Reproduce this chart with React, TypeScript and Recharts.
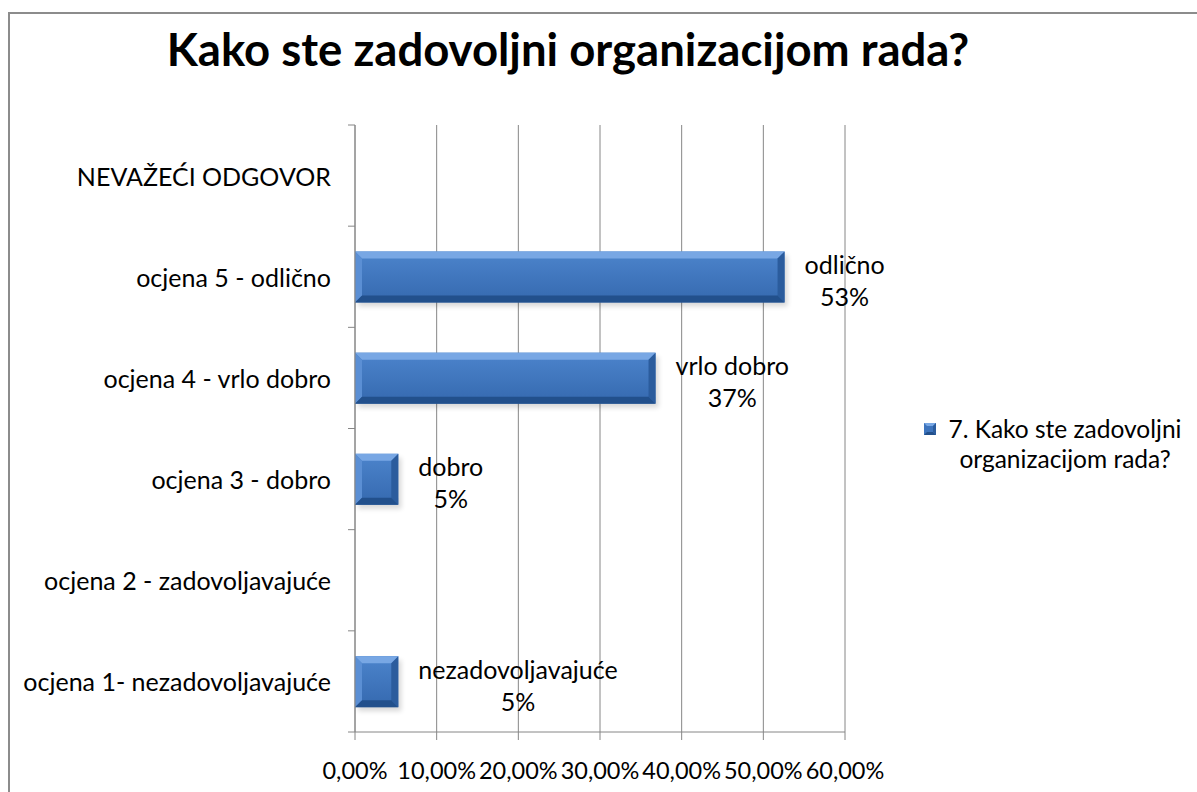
import React from 'react';
import {
  BarChart,
  Bar,
  XAxis,
  YAxis,
  CartesianGrid,
  LabelList
} from 'recharts';

const categories = [
  'NEVAŽEĆI ODGOVOR',
  'ocjena 5 - odlično',
  'ocjena 4 - vrlo dobro',
  'ocjena 3 - dobro',
  'ocjena 2 - zadovoljavajuće',
  'ocjena 1- nezadovoljavajuće'
];
const shares = [0, 0.526, 0.368, 0.053, 0, 0.053];
const labelNames = ['', 'odlično', 'vrlo dobro', 'dobro', '', 'nezadovoljavajuće'];
const xTicks = [0, 0.1, 0.2, 0.3, 0.4, 0.5, 0.6];

const title = 'Kako ste zadovoljni organizacijom rada?';
const seriesName = '7. Kako ste zadovoljni organizacijom rada?';

const data = categories.map((category, i) => ({
  category,
  value: shares[i],
  name: labelNames[i]
}));

const FONT = 'Lato, "Open Sans", sans-serif';
const FS = 25;
const GRID = '#868686';
const PLOT_TOP = 125;
const PLOT_BOTTOM = 732;
const BAND = (PLOT_BOTTOM - PLOT_TOP) / categories.length;

let ctx: CanvasRenderingContext2D | null = null;
const textWidth = (t: string) => {
  if (!ctx) ctx = document.createElement('canvas').getContext('2d');
  if (!ctx) return t.length * 12;
  ctx.font = `${FS}px Lato`;
  return ctx.measureText(t).width;
};

const BevelBar = (props: any) => {
  const { x, y, width, height } = props;
  if (!width || width <= 0) return null;
  const b = Math.min(7, width / 3, height / 3);
  return (
    <g>
      <rect x={x + 3} y={y + 4} width={width} height={height} fill="#000" opacity={0.15} filter="url(#barShadow)" />
      <rect x={x} y={y} width={width} height={height} fill="url(#barBody)" />
      <polygon points={`${x},${y} ${x + width},${y} ${x + width - b},${y + b} ${x + b},${y + b}`} fill="#78a7e4" />
      <polygon points={`${x},${y} ${x + b},${y + b} ${x + b},${y + height - b} ${x},${y + height}`} fill="#5b8fd4" />
      <polygon points={`${x + width},${y} ${x + width},${y + height} ${x + width - b},${y + height - b} ${x + width - b},${y + b}`} fill="#2b5c9d" />
      <polygon points={`${x},${y + height} ${x + width},${y + height} ${x + width - b},${y + height - b} ${x + b},${y + height - b}`} fill="#22508c" />
    </g>
  );
};

const BarLabel = (props: any) => {
  const { x, y, width, height, index } = props;
  const v = shares[index];
  if (!v) return null;
  const name = labelNames[index];
  const pct = `${Math.round(v * 100)}%`;
  const w = Math.max(textWidth(name), textWidth(pct));
  const cx = x + width + 20 + w / 2;
  const cy = y + height / 2;
  return (
    <g fontFamily={FONT} fontSize={FS} fill="#000">
      <text x={cx} y={cy - 13} textAnchor="middle" dominantBaseline="central">{name}</text>
      <text x={cx} y={cy + 19} textAnchor="middle" dominantBaseline="central">{pct}</text>
    </g>
  );
};

const CategoryTick = (props: any) => {
  const { x, y, payload, index } = props;
  const last = index === categories.length - 1;
  return (
    <g>
      <line x1={x - 7} x2={x} y1={y - BAND / 2} y2={y - BAND / 2} stroke={GRID} />
      {last && <line x1={x - 7} x2={x} y1={y + BAND / 2} y2={y + BAND / 2} stroke={GRID} />}
      <text x={x - 24} y={y} textAnchor="end" dominantBaseline="central" fontFamily={FONT} fontSize={FS} fill="#000">
        {payload.value}
      </text>
    </g>
  );
};

const formatPct = (v: number) => `${(v * 100).toFixed(2).replace('.', ',')}%`;

export default function App() {
  return (
    <div style={{ position: 'absolute', left: 0, top: 0, width: 1197, height: 792, overflow: 'hidden', background: '#fff' }}>
      <div style={{ position: 'absolute', left: 8, top: 12, width: 1300, height: 900, borderLeft: '2px solid #8c8c8c', borderTop: '2px solid #8c8c8c' }} />
      <div style={{ position: 'absolute', left: 0, top: 22, width: 1136, textAlign: 'center', fontFamily: FONT, fontWeight: 700, fontSize: 45.5, lineHeight: '54px', color: '#000' }}>
        {title}
      </div>
      <div style={{ position: 'absolute', left: 0, top: 0 }}>
        <BarChart
          width={1197}
          height={792}
          data={data}
          layout="vertical"
          barCategoryGap="25%"
          margin={{ top: PLOT_TOP, right: 352, bottom: 20, left: 0 }}
        >
          <defs>
            <linearGradient id="barBody" x1="0" y1="0" x2="0" y2="1">
              <stop offset="0%" stopColor="#4c84cc" />
              <stop offset="100%" stopColor="#3569af" />
            </linearGradient>
            <filter id="barShadow" x="-10%" y="-30%" width="130%" height="170%">
              <feGaussianBlur stdDeviation="2.5" />
            </filter>
          </defs>
          <CartesianGrid horizontal={false} stroke={GRID} />
          <XAxis
            type="number"
            domain={[0, 0.6]}
            ticks={xTicks}
            tickFormatter={formatPct}
            height={40}
            tickSize={8}
            tickMargin={22}
            axisLine={{ stroke: GRID }}
            tickLine={{ stroke: GRID }}
            tick={{ fontFamily: FONT, fontSize: 23.5, fill: '#000' }}
            interval={0}
          />
          <YAxis
            type="category"
            dataKey="category"
            width={355}
            tickSize={0}
            tickMargin={0}
            axisLine={{ stroke: GRID }}
            tickLine={false}
            tick={<CategoryTick />}
            interval={0}
          />
          <Bar dataKey="value" shape={<BevelBar />} isAnimationActive={false}>
            <LabelList dataKey="value" content={<BarLabel />} />
          </Bar>
        </BarChart>
      </div>
      <div style={{ position: 'absolute', left: 922, top: 414, fontFamily: FONT, fontSize: 24.5, lineHeight: '30px', color: '#000' }}>
        <div style={{ display: 'flex', alignItems: 'flex-start' }}>
          <svg width={16} height={30} style={{ flex: 'none' }}>
            <rect x={2} y={9} width={12} height={12} fill="#3d74bd" />
            <polygon points="2,9 14,9 11,12 5,12" fill="#78a7e4" />
            <polygon points="2,21 14,21 11,18 5,18" fill="#22508c" />
            <polygon points="14,9 14,21 11,18 11,12" fill="#2b5c9d" />
          </svg>
          <div style={{ marginLeft: 7, width: 240, textAlign: 'center' }}>{seriesName}</div>
        </div>
      </div>
    </div>
  );
}
